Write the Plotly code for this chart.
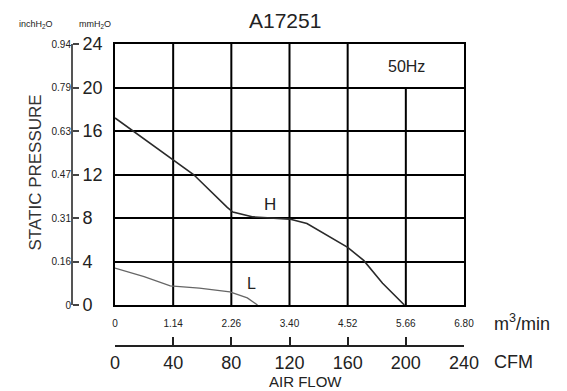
import plotly.graph_objects as go

# chart data (CFM vs mmH2O)
h_cfm = [0, 40, 54, 77, 81, 95, 120, 132, 160, 171, 184, 199]
h_mm = [17.2, 13.3, 12.0, 9.0, 8.55, 8.1, 7.9, 7.5, 5.3, 4.1, 2.0, 0]
l_cfm = [0, 20, 38, 58, 79, 91, 98]
l_mm = [3.4, 2.6, 1.75, 1.55, 1.2, 0.65, 0]

cfm_ticks = [0, 40, 80, 120, 160, 200, 240]
m3_labels = ["0", "1.14", "2.26", "3.40", "4.52", "5.66", "6.80"]
mm_ticks = [0, 4, 8, 12, 16, 20, 24]
inch_labels = ["0", "0.16", "0.31", "0.47", "0.63", "0.79", "0.94"]

FONT = "Liberation Sans, Arial, sans-serif"
PAGE = 8  # default body margin of the html page
W, H = 567 - PAGE, 391 - PAGE
ML, MR, MT, MB = 10, 10, 10, 10
pw, ph = W - ML - MR, H - MT - MB

def px_x(x):  # reference pixel -> paper fraction
    return (x - PAGE - ML) / pw

def px_y(y):
    return (H - MB - (y - PAGE)) / ph

fig = go.Figure()
fig.add_trace(go.Scatter(x=h_cfm, y=h_mm, mode="lines",
                         line=dict(color="#2a2a2a", width=1.6), hoverinfo="skip"))
fig.add_trace(go.Scatter(x=l_cfm, y=l_mm, mode="lines",
                         line=dict(color="#666666", width=1.3), hoverinfo="skip"))

# vertical grid lines (top right cell is merged for the "50Hz" box)
for v in cfm_ticks[1:-1]:
    top = 20 if v == 200 else 24
    fig.add_shape(type="line", x0=v, x1=v, y0=0, y1=top, xref="x", yref="y",
                  line=dict(color="black", width=2), layer="below")

dom_x = [px_x(115), px_x(464)]
dom_y = [px_y(305), px_y(44)]

fig.update_layout(
    width=W, height=H, margin=dict(l=ML, r=MR, t=MT, b=MB, autoexpand=False),
    paper_bgcolor="white", plot_bgcolor="white", showlegend=False,
    font=dict(family=FONT, color="#222"),
    xaxis=dict(domain=dom_x, range=[0, 240], showgrid=False, zeroline=False,
               showline=True, mirror=True, linecolor="black", linewidth=2,
               tickvals=cfm_ticks, ticktext=m3_labels, ticks="", automargin=False,
               ticklabelstandoff=8, tickfont=dict(size=10)),
    yaxis=dict(domain=dom_y, range=[0, 24], showgrid=True, gridcolor="black",
               gridwidth=2, zeroline=False, showline=True, mirror=True,
               linecolor="black", linewidth=2, tickvals=mm_ticks,
               showticklabels=False, automargin=False),
    xaxis2=dict(overlaying="x", anchor="free", position=px_y(346), side="bottom",
                range=[0, 240], tickvals=cfm_ticks, showgrid=False, zeroline=False,
                showline=True, linecolor="#222", linewidth=2, ticks="inside",
                ticklen=8, tickwidth=2, tickcolor="#222", automargin=False,
                tickfont=dict(size=18)),
    yaxis2=dict(overlaying="y", anchor="free", position=px_x(72), side="right",
                range=[0, 24], tickvals=mm_ticks, showgrid=False, zeroline=False,
                showline=True, linecolor="#555", linewidth=2, ticks="outside",
                ticklen=6, tickwidth=1.5, tickcolor="#444", automargin=False,
                tickfont=dict(size=18)),
    yaxis3=dict(overlaying="y", anchor="free", position=px_x(71), side="left",
                range=[0, 24], tickvals=mm_ticks, ticktext=inch_labels,
                showgrid=False, zeroline=False, showline=False, ticks="",
                automargin=False, tickfont=dict(size=10)),
)

# invisible traces so the extra axes are drawn
fig.add_trace(go.Scatter(x=[0], y=[0], xaxis="x2", yaxis="y2", mode="markers",
                         marker=dict(opacity=0), hoverinfo="skip"))
fig.add_trace(go.Scatter(x=[0], y=[0], xaxis="x", yaxis="y3", mode="markers",
                         marker=dict(opacity=0), hoverinfo="skip"))

ann = [
    dict(text="A17251", x=px_x(285), y=px_y(21), size=21),
    dict(text="50Hz", x=px_x(406), y=px_y(66), size=16),
    dict(text="H", x=px_x(270), y=px_y(204), size=17),
    dict(text="L", x=px_x(251), y=px_y(283), size=16),
    dict(text="m<sup>3</sup>/min", x=px_x(522), y=px_y(322), size=18),
    dict(text="CFM", x=px_x(513), y=px_y(362), size=18),
    dict(text="AIR FLOW", x=px_x(305), y=px_y(382), size=15),
    dict(text="inchH<sub>2</sub>O", x=px_x(36), y=px_y(25), size=9),
    dict(text="mmH<sub>2</sub>O", x=px_x(95), y=px_y(25), size=9),
]
for a in ann:
    fig.add_annotation(text=a["text"], x=a["x"], y=a["y"], xref="paper", yref="paper",
                       showarrow=False, xanchor="center", yanchor="middle",
                       font=dict(size=a["size"], family=FONT, color="#222"))
fig.add_annotation(text="STATIC PRESSURE", x=px_x(23), y=px_y(173), xref="paper",
                   yref="paper", showarrow=False, textangle=-90,
                   font=dict(size=17, family=FONT, color="#333"))

fig.write_html("out.html")
